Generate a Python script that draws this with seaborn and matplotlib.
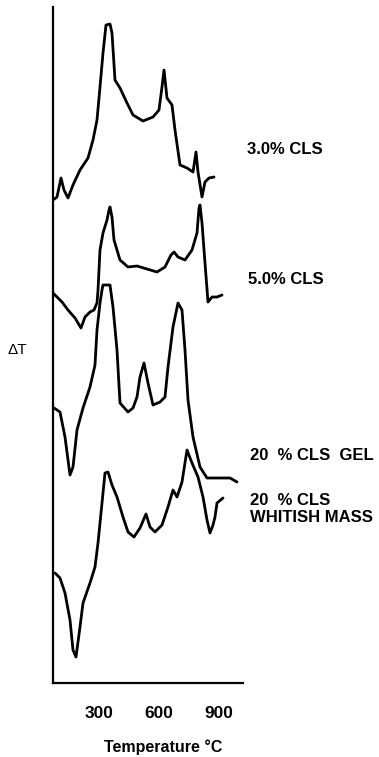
import matplotlib
matplotlib.use("Agg")
import matplotlib.pyplot as plt
import seaborn as sns
import pandas as pd

# ---- data (temperature in °C, ΔT in arbitrary stacked units) ----
t_30 = [70, 90, 110, 125, 145, 170, 205, 245, 270, 290, 305, 320, 335, 355, 365, 380, 405, 440, 470, 520,
        570, 600, 615, 625, 640, 665, 680, 705, 740, 770, 785, 795, 815, 830, 850, 875]
dt_30 = [483, 486, 505, 493, 485, 498, 513, 525, 543, 563, 596, 630, 658, 659, 650, 603, 595, 580, 568, 562,
         566, 573, 596, 613, 585, 578, 553, 518, 515, 511, 531, 511, 486, 501, 505, 506]

t_50 = [70, 80, 115, 145, 180, 210, 230, 255, 275, 290, 295, 305, 320, 340, 350, 355, 365, 375, 405, 445,
        490, 540, 590, 630, 660, 675, 695, 730, 765, 790, 800, 805, 815, 830, 845, 865, 890, 915]
dt_50 = [390, 388, 381, 373, 365, 355, 366, 371, 373, 380, 393, 433, 450, 463, 473, 476, 466, 443, 423, 416,
         417, 414, 411, 416, 428, 431, 426, 423, 433, 450, 475, 478, 460, 420, 381, 386, 386, 388]

t_gel = [75, 105, 130, 155, 170, 190, 220, 255, 280, 290, 305, 315, 320, 355, 370, 390, 405, 445, 470, 490,
         505, 525, 545, 570, 605, 630, 645, 670, 695, 715, 730, 745, 770, 805, 840, 905, 955, 990]
dt_gel = [275, 271, 246, 208, 216, 253, 275, 296, 318, 353, 380, 393, 398, 398, 376, 333, 280, 271, 275, 286,
          306, 320, 300, 278, 281, 286, 316, 356, 380, 373, 333, 283, 246, 216, 205, 205, 205, 201]

t_wm = [80, 105, 130, 155, 170, 185, 205, 220, 255, 280, 295, 315, 330, 345, 365, 390, 420, 445, 475, 505,
        535, 555, 580, 615, 645, 670, 690, 715, 740, 765, 795, 805, 820, 840, 855, 870, 880, 890, 920]
dt_wm = [110, 105, 90, 63, 33, 26, 56, 80, 100, 116, 140, 180, 210, 211, 198, 186, 166, 151, 146, 155,
         169, 156, 151, 158, 176, 193, 186, 201, 233, 220, 206, 198, 186, 163, 150, 158, 166, 180, 185]

series_labels = ["3.0% CLS", "5.0% CLS", "20  % CLS  GEL", "20  % CLS\nWHITISH MASS"]
xticks = [300, 600, 900]

frames = []
for name, t, d in zip(series_labels, [t_30, t_50, t_gel, t_wm], [dt_30, dt_50, dt_gel, dt_wm]):
    frames.append(pd.DataFrame({"T": t, "dT": d, "sample": name}))
df = pd.concat(frames, ignore_index=True)

sns.set_style("white")
plt.rcParams["font.family"] = ["Liberation Sans", "DejaVu Sans"]
plt.rcParams["text.color"] = "black"
plt.rcParams["xtick.color"] = "black"
plt.rcParams["xtick.labelcolor"] = "black"

fig = plt.figure(figsize=(3.79, 7.57), dpi=100)
ax = fig.add_axes([53 / 379, 74 / 757, 190 / 379, 676 / 757])

for name in series_labels:
    sub = df[df["sample"] == name]
    sns.lineplot(data=sub, x="T", y="dT", ax=ax, color="black", lw=2.0,
                 sort=False, estimator=None, legend=False)

ax.set_xlim(70, 1020)
ax.set_ylim(0, 676)
ax.set_xticks(xticks)
ax.set_xticklabels([str(v) for v in xticks], fontsize=12.5, fontweight="bold", color="black")
ax.set_yticks([])
ax.tick_params(axis="x", direction="out", length=6.5, width=1.8, pad=10, color="black")
for s in ["top", "right"]:
    ax.spines[s].set_visible(False)
for s in ["left", "bottom"]:
    ax.spines[s].set_color("black")
    ax.spines[s].set_linewidth(1.6)
ax.set_xlabel("")
ax.set_ylabel("")

# curve labels (positions in data coords)
label_pos = [(1040, 534), (1045, 403), (1055, 228), (1055, 174)]
for name, (x, y) in zip(series_labels, label_pos):
    ax.text(x, y, name, ha="left", va="center", fontsize=12, fontweight="bold",
            linespacing=1.15, clip_on=False, color="black")

fig.text(7 / 379, 1 - 350 / 757, "ΔT", ha="left", va="center", fontsize=11, color="black")
fig.text(163 / 379, 1 - 747 / 757, "Temperature °C", ha="center", va="center",
         fontsize=11.5, fontweight="bold", color="black")

fig.savefig("out.png", dpi=100)
